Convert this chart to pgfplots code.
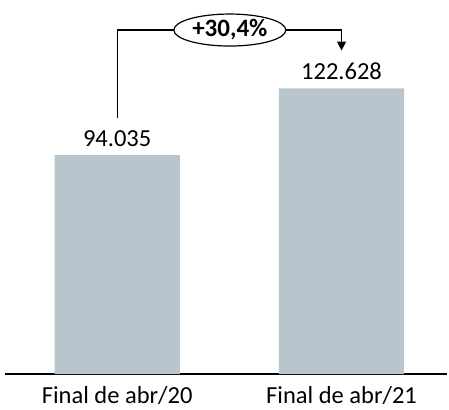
\documentclass[border=0pt]{standalone}
\usepackage{pgfplots}
\pgfplotsset{compat=1.18}
\usepackage{fontspec}
\setmainfont{Carlito}
\usetikzlibrary{shapes.geometric,arrows.meta}
\definecolor{barc}{RGB}{185,197,204}
\begin{document}
\begin{tikzpicture}[x=1pt,y=1pt]
\useasboundingbox (0,0) rectangle (449,409);
\begin{axis}[
  at={(5pt,35pt)}, anchor=south west,
  scale only axis, width=442pt, height=374pt,
  xmin=-0.5, xmax=1.47, ymin=0, ymax=160.6,
  axis x line=bottom, axis y line=none,
  x axis line style={-, line width=1.3pt, black},
  xtick={0,1}, xticklabels={Final de abr/20, Final de abr/21},
  major tick length=0pt,
  ticklabel style={font=\fontsize{24.5}{26}\selectfont, text=black},
  xticklabel style={yshift=-9pt},
  clip=false,
]
\addplot[ybar, bar width=0.558, fill=barc, draw=none,
  point meta=explicit symbolic,
  nodes near coords,
  every node near coord/.style={font=\fontsize{24.5}{26}\selectfont, text=black, anchor=south, yshift=5pt}]
  coordinates {(0,94.035) [94.035] (1,122.628) [122.628]};
\draw[line width=1.2pt] (axis cs:0,109.9) -- (axis cs:0,147.7) -- (axis cs:1,147.7);
\draw[line width=1.2pt, -{Triangle[length=9pt,width=9pt]}] (axis cs:1,147.7) -- (axis cs:1,138.9);
\node[draw, ellipse, line width=1.2pt, fill=white, inner sep=1pt, minimum width=112pt, minimum height=28pt,
  font=\bfseries\fontsize{25}{26}\selectfont] at (axis cs:0.502,147.7) {+30,4\%};
\end{axis}
\end{tikzpicture}
\end{document}
